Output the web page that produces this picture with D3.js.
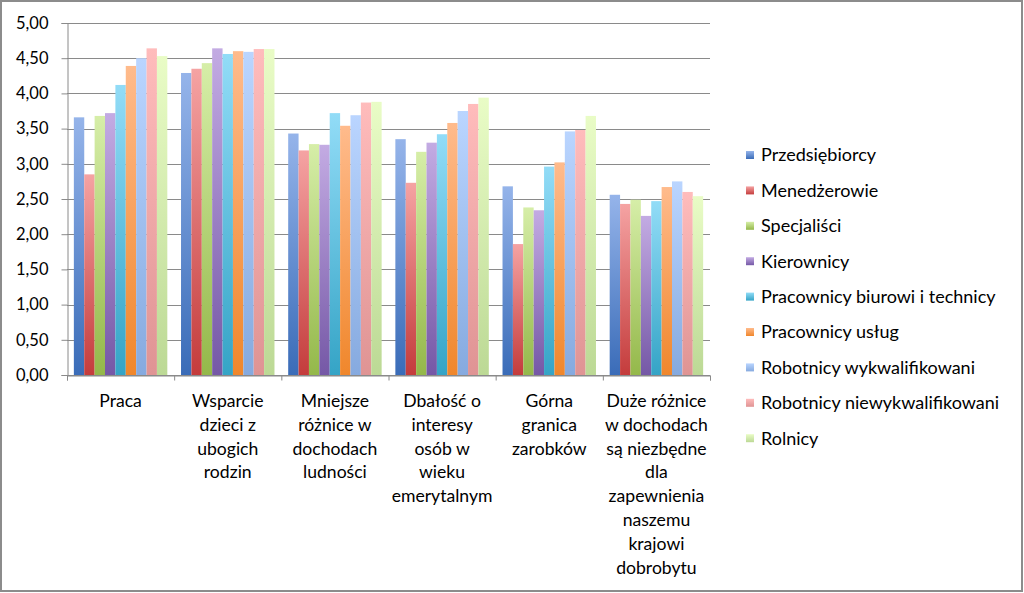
<!DOCTYPE html>
<html><head><meta charset="utf-8">
<script src="https://cdn.jsdelivr.net/npm/d3@7/dist/d3.min.js"></script>
<style>
html,body{margin:0;padding:0;background:#fff;}
svg{display:block;font-family:Lato,"Open Sans",sans-serif;}
</style></head>
<body>
<svg id="chart" width="1024" height="593"></svg>
<script>
const categories = [
  ["Praca"],
  ["Wsparcie","dzieci z","ubogich","rodzin"],
  ["Mniejsze","różnice w","dochodach","ludności"],
  ["Dbałość o","interesy","osób w","wieku","emerytalnym"],
  ["Górna","granica","zarobków"],
  ["Duże różnice","w dochodach","są niezbędne","dla","zapewnienia","naszemu","krajowi","dobrobytu"]
];
const seriesNames = ["Przedsiębiorcy","Menedżerowie","Specjaliści","Kierownicy","Pracownicy biurowi i technicy","Pracownicy usług","Robotnicy wykwalifikowani","Robotnicy niewykwalifikowani","Rolnicy"];
const przedsiebiorcy = [3.66,4.29,3.43,3.35,2.68,2.56];
const menedzerowie   = [2.85,4.35,3.19,2.73,1.86,2.43];
const specjalisci    = [3.68,4.43,3.28,3.17,2.38,2.49];
const kierownicy     = [3.72,4.64,3.27,3.30,2.34,2.26];
const biurowi        = [4.12,4.56,3.72,3.42,2.96,2.47];
const uslug          = [4.39,4.60,3.54,3.58,3.02,2.67];
const wykwalifikowani= [4.50,4.59,3.69,3.75,3.46,2.75];
const niewykwalif    = [4.64,4.63,3.87,3.85,3.48,2.60];
const rolnicy        = [4.53,4.63,3.88,3.94,3.68,2.54];
const seriesValues = [przedsiebiorcy,menedzerowie,specjalisci,kierownicy,biurowi,uslug,wykwalifikowani,niewykwalif,rolnicy];
const yTicks = [0,0.5,1,1.5,2,2.5,3,3.5,4,4.5,5];

const colorsBottom = ["#3a6cb8","#c43c3c","#94b84a","#7558a6","#35a4c6","#f0872c","#86aadf","#df9494","#bcd995"];
const colorsTop    = ["#95b4ea","#f5a3a3","#d6eea8","#c3abe3","#92dcf7","#ffbb8c","#bad5ff","#ffbcbc","#e9fcc6"];

const svg = d3.select("#chart");
const W = 1024, H = 593;
const m = {left:67, top:23, right:710, bottom:375};

// outer border
svg.append("rect").attr("x",1).attr("y",1).attr("width",W-3).attr("height",H-3)
  .attr("fill","#fff").attr("stroke","#8c8c8c").attr("stroke-width",2);

const defs = svg.append("defs");
colorsBottom.forEach((c,i)=>{
  const g = defs.append("linearGradient").attr("id","g"+i)
    .attr("x1",0).attr("y1",1).attr("x2",0).attr("y2",0);
  g.append("stop").attr("offset","0%").attr("stop-color",c);
  g.append("stop").attr("offset","100%").attr("stop-color",colorsTop[i]);
});

const x0 = d3.scaleBand().domain(d3.range(categories.length)).range([m.left,m.right]).paddingInner(0).paddingOuter(0);
const x1 = d3.scaleBand().domain(d3.range(seriesNames.length)).range([0,x0.bandwidth()]).paddingOuter(0.66).paddingInner(0);
const y = d3.scaleLinear().domain([0,5]).range([m.bottom,m.top]);

// gridlines
svg.append("g").selectAll("line").data(yTicks).join("line")
  .attr("x1",m.left).attr("x2",m.right)
  .attr("y1",d=>Math.round(y(d))+0.5).attr("y2",d=>Math.round(y(d))+0.5)
  .attr("stroke","#8a8a8a").attr("stroke-width",1);

// bars
const groups = svg.append("g").selectAll("g").data(seriesValues).join("g")
  .attr("fill",(d,i)=>`url(#g${i})`);
groups.selectAll("rect").data((d,i)=>d.map((v,j)=>({v,j,i}))).join("rect")
  .attr("x",d=>x0(d.j)+x1(d.i))
  .attr("width",x1.bandwidth())
  .attr("y",d=>y(d.v))
  .attr("height",d=>y(0)-y(d.v));

// y axis
const yAxis = d3.axisLeft(y).tickValues(yTicks).tickSize(6).tickPadding(13)
  .tickFormat(d=>d3.format(".2f")(d).replace(".",","));
const ya = svg.append("g").attr("transform",`translate(${m.left+0.5},0)`).call(yAxis);
ya.select(".domain").attr("stroke","#8a8a8a");
ya.selectAll(".tick line").attr("stroke","#8a8a8a");
ya.selectAll(".tick text").attr("font-size",16.5).attr("fill","#000").attr("font-family","Lato");

// x axis
const xb = d3.scaleLinear().domain([0,categories.length]).range([m.left,m.right]);
const xa = svg.append("g").attr("transform",`translate(0,${m.bottom+0.5})`)
  .call(d3.axisBottom(xb).tickValues(d3.range(categories.length+1)).tickSize(5).tickFormat(""));
xa.select(".domain").attr("stroke","#8a8a8a");
xa.selectAll(".tick line").attr("stroke","#8a8a8a");

const labels = svg.append("g").selectAll("text").data(categories).join("text")
  .attr("text-anchor","middle").attr("font-size",17.6).attr("fill","#000")
  .attr("transform",(d,i)=>`translate(${x0(i)+x0.bandwidth()/2},407)`);
labels.selectAll("tspan").data(d=>d).join("tspan")
  .attr("x",0).attr("y",(d,i)=>i*23.8).text(d=>d);

// legend
const lg = svg.append("g").selectAll("g").data(seriesNames).join("g")
  .attr("transform",(d,i)=>`translate(746,${155+i*35.4})`);
lg.append("rect").attr("x",0).attr("y",-4).attr("width",8).attr("height",8)
  .attr("fill",(d,i)=>`url(#g${i})`);
lg.append("text").attr("x",15).attr("y",0).attr("dy","0.36em")
  .attr("font-size",18).attr("fill","#000").text(d=>d);
</script>
</body></html>
